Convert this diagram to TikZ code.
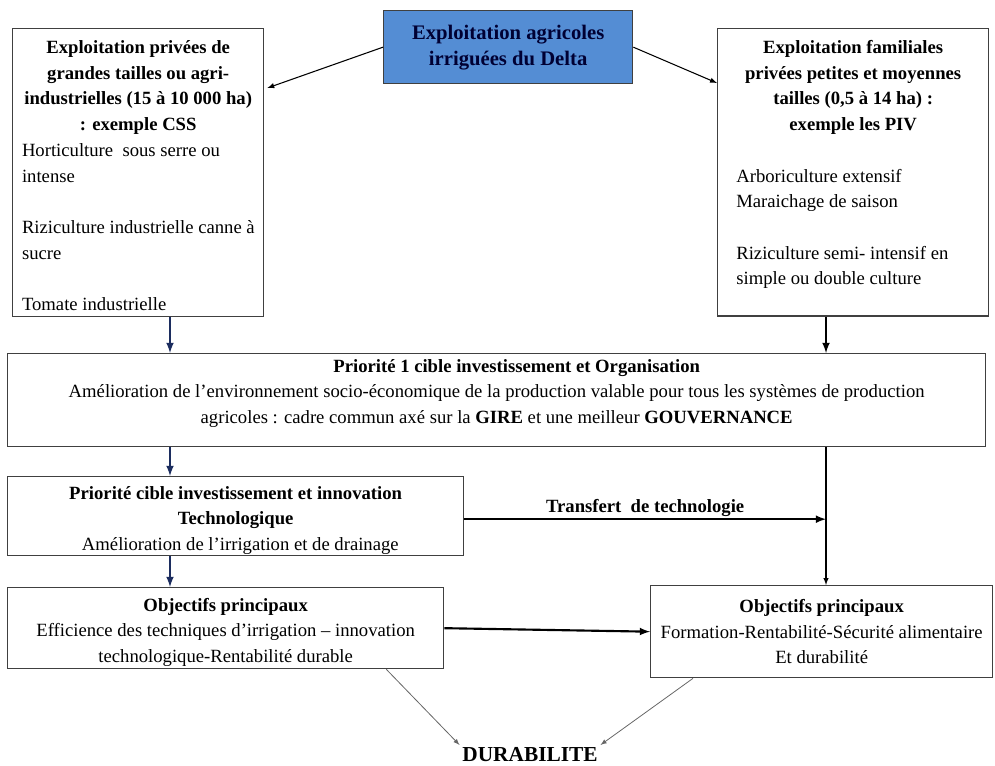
\documentclass[tikz,border=0pt]{standalone}
\usepackage{fontspec}
\setmainfont{Liberation Serif}
\usepackage{tikz}
\usetikzlibrary{calc}
\usetikzlibrary{arrows}
\usetikzlibrary{positioning}

\definecolor{bleuboite}{RGB}{84,141,212}
\definecolor{bleufleche}{RGB}{28,45,95}
\newcommand{\espacenormal}{\spaceskip=0pt\xspaceskip=0pt\relax}
\newcommand{\lignevide}{\mbox{}}

\tikzset{
    boite/.style={draw=black!75, line width=1pt, anchor=north west, inner sep=4pt, font=\fontsize{14}{19.3}\selectfont},
    boite texte/.style={boite, inner xsep=1pt, inner ysep=4pt, align=left},
    fleche bleue/.style={-latex, bleufleche, line width=1.6pt},
    fleche noire/.style={-latex, black, line width=1.6pt},
    fleche fine/.style={-latex, black, line width=0.8pt},
    fleche grise/.style={-latex, black!60, line width=0.6pt}
}

\begin{document}
\begin{tikzpicture}[x=0.75pt, y=-0.75pt]
            % Frame to ensure alignment:
            \useasboundingbox                                                  (0,0) rectangle (995,765);
            % Top
            \node[boite, fill=bleuboite, minimum width=249*0.75pt, minimum height=73*0.75pt, align=center,
                  font=\fontsize{15.5}{19.5}\selectfont\bfseries, text=black!80!blue]
                                                         (delta)  at (383,10)  {Exploitation agricoles\\irriguées du Delta};
            \node[boite texte, text width=251*0.75pt-2pt]
                                                         (grandes) at (12,28)  {\espacenormal{\centering\bfseries\rule{0pt}{14.5pt}Exploitation privées de\\grandes tailles ou agri-\\industrielles (15 à 10 000 ha)\\: exemple CSS\par}
                                                                                \leftskip=6pt Horticulture\ \ sous serre ou\\intense\\\lignevide\\Riziculture industrielle canne à\\sucre\\\lignevide\\Tomate industrielle\par};
            \node[boite texte, text width=271*0.75pt-2pt]
                                                         (familles) at (717,28) {\espacenormal{\centering\bfseries\rule{0pt}{14.5pt}Exploitation familiales\\privées petites et moyennes\\tailles (0,5 à 14 ha) :\\exemple les PIV\par}
                                                                                \leftskip=13pt \lignevide\\Arboriculture extensif\\Maraichage de saison\\\lignevide\\Riziculture semi- intensif en\\simple ou double culture\\\lignevide\par};
            % Middle
            \node[boite, minimum width=978*0.75pt, minimum height=93*0.75pt, align=center]
                                                         (organisation) at (7,353) {\hspace*{30pt}\textbf{Priorité 1 cible investissement et Organisation}\\
                                                                                Amélioration de l’environnement socio-économique de la production valable pour tous les systèmes de production\\
                                                                                agricoles : cadre commun axé sur la \textbf{GIRE} et une meilleur \textbf{GOUVERNANCE}\\[-6pt]};
            \node[boite, minimum width=456*0.75pt, inner ysep=0pt, text height=55.5pt, text depth=3.75pt, align=center]
                                                         (innovation) at (7,476) {\textbf{Priorité cible investissement et innovation}\\\textbf{Technologique}\\
                                                                                \ \ Amélioration de l’irrigation et de drainage};
            % Bottom
            \node[boite, minimum width=436*0.75pt, inner ysep=0pt, text height=56.25pt, text depth=4.5pt, align=center]
                                                         (objgauche) at (7,587) {\textbf{Objectifs principaux}\\Efficience des techniques d’irrigation – innovation\\technologique-Rentabilité durable};
            \node[boite, minimum width=342*0.75pt, minimum height=92*0.75pt, align=center]
                                                         (objdroite) at (650,585) {\textbf{Objectifs principaux}\\Formation-Rentabilité-Sécurité alimentaire\\Et durabilité};
            \node[font=\fontsize{16}{18}\selectfont\bfseries, inner sep=2pt]
                                                         (durabilite) at (530,755) {DURABILITE};
            % Arrow columns
            \coordinate (colgauche) at (170,0);
            \coordinate (coldroite) at (826,0);
            \coordinate (transfert) at ($(innovation.east)+(0,3)$);
            % Connectors
            \draw[fleche fine]   (delta.west)                         -- ($(grandes.north east)+(3,60)$);
            \draw[fleche fine]   (delta.east)                         -- ($(familles.north west)+(0,55)$);
            \draw[fleche bleue]  (grandes.south -| colgauche)         -- (organisation.north -| colgauche);
            \draw[fleche noire]  (familles.south -| coldroite)        -- (organisation.north -| coldroite);
            \draw[fleche bleue]  (organisation.south -| colgauche)    -- (innovation.north -| colgauche);
            \draw[fleche bleue]  (innovation.south -| colgauche)      -- (objgauche.north -| colgauche);
            \draw[fleche fine]   (organisation.south -| coldroite)    -- (objdroite.north -| coldroite);
            \draw[fleche noire]  (transfert)                          -- (transfert -| coldroite)
                                 node[midway, above=-2pt, font=\fontsize{14}{16}\selectfont\bfseries] {Transfert\ \ de technologie};
            \draw[fleche noire]  (objgauche.east)                     -- (objdroite.west);
            \draw[fleche grise]  ($(objgauche.south east)+(-58,0)$)   -- (durabilite.north west);
            \draw[fleche grise]  ($(objdroite.south west)+(43,0)$)    -- (durabilite.north east);
        \end{tikzpicture}
\end{document}
